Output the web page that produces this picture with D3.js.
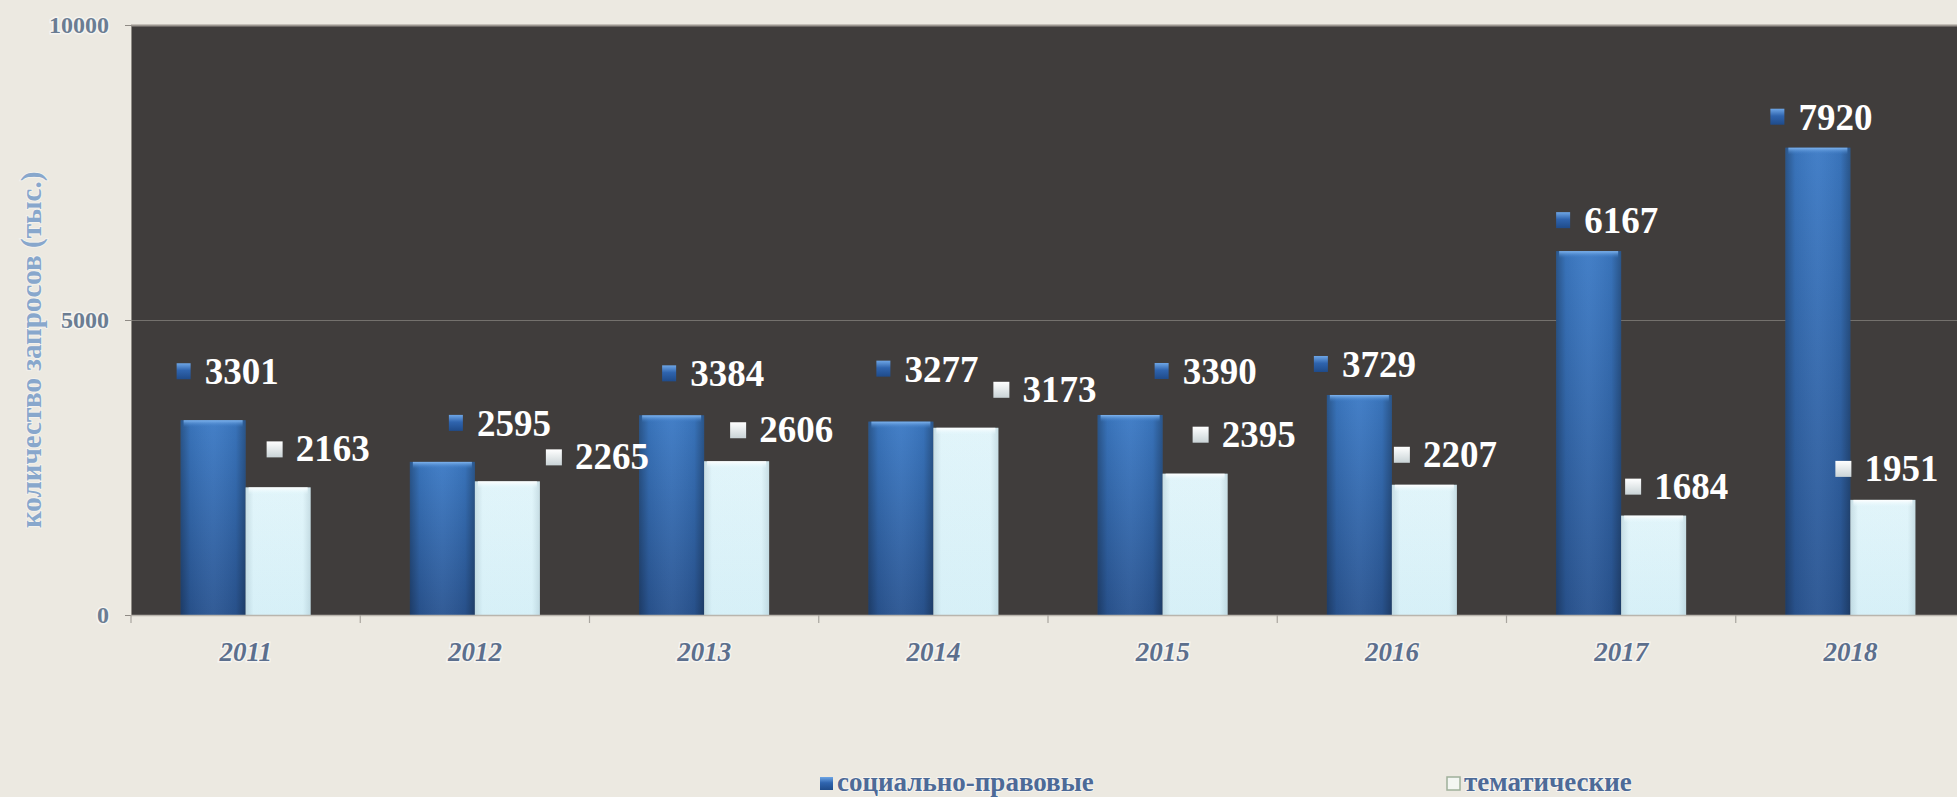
<!DOCTYPE html>
<html>
<head>
<meta charset="utf-8">
<script src="https://cdn.jsdelivr.net/npm/d3@7"></script>
<style>
html,body{margin:0;padding:0;background:#ece9e1;overflow:hidden}
text{font-family:"Liberation Serif","Times New Roman",serif;font-weight:bold}
</style>
</head>
<body>
<svg id="chart" width="1957" height="797"></svg>
<script>
// ---- data ----
const years = ["2011","2012","2013","2014","2015","2016","2017","2018"];
const seriesNames = ["социально-правовые","тематические"];
const socialLegal = [3301,2595,3384,3277,3390,3729,6167,7920];
const thematic = [2163,2265,2606,3173,2395,2207,1684,1951];
const yTicks = [0,5000,10000];
const yTitle = "количество запросов (тыс.)";

// ---- layout: label nudges [dx from bar left, dy from bar top] ----
const socialLabelNudge = [[3,-48],[46,-38],[30,-41],[15,-52],[64,-43],[-6,-30],[7,-30],[-8,-30]];
const thematicLabelNudge = [[29,-38],[79,-24],[34,-31],[68,-38],[38,-39],[10,-30],[12,-29],[-7,-31]];

const plot = {left:131, right:1965, top:25, bottom:615};
const svg = d3.select("#chart");

const x = d3.scaleBand().domain(years).range([plot.left, plot.right]).padding(0);
const barW = 65;
const xs = d3.scaleBand().domain([0,1])
  .range([x.bandwidth()/2 - barW, x.bandwidth()/2 + barW]).padding(0);
const y = d3.scaleLinear().domain([0,10000]).range([plot.bottom, plot.top]);

// ---- defs ----
const defs = svg.append("defs");
function lg(id, stops, horiz){
  const g = defs.append("linearGradient").attr("id", id)
    .attr("x1",0).attr("y1",0).attr("x2",horiz?1:0).attr("y2",horiz?0:1);
  stops.forEach(s => g.append("stop").attr("offset", s[0]).attr("stop-color", s[1]).attr("stop-opacity", s[2]==null?1:s[2]));
}
lg("blueV", [["0%","#3c7ac5"],["100%","#2a5592"]]);
lg("whiteV", [["0%","#e6f9fe"],["100%","#dbf4fb"]]);
lg("shadeH", [["0%","#000",0.30],["15%","#000",0.06],["50%","#fff",0.04],["85%","#000",0.06],["100%","#000",0.30]], true);
lg("shadeHW", [["0%","#6c8a96",0.25],["12%","#6c8a96",0.04],["88%","#6c8a96",0.04],["100%","#6c8a96",0.25]], true);
lg("blueTop", [["0%","#7fb4ee"],["100%","#3c7ac5",0]]);
lg("whiteTop", [["0%","#ffffff"],["100%","#e6f9fe",0]]);
lg("mkBlue", [["0%","#6ea6e6"],["45%","#2f64ae"],["100%","#1f4b8a"]]);
lg("mkWhite", [["0%","#ffffff"],["100%","#c9d3d6"]]);

// ---- plot background ----
svg.append("rect").attr("x", plot.left).attr("y", plot.top)
  .attr("width", plot.right - plot.left).attr("height", plot.bottom - plot.top)
  .attr("fill", "#403d3c");
svg.append("line").attr("x1", plot.left).attr("x2", plot.right)
  .attr("y1", plot.top + 0.5).attr("y2", plot.top + 0.5)
  .attr("stroke", "#9b968f").attr("stroke-width", 2);

// gridlines
svg.append("g").selectAll("line").data(yTicks.filter(t => t > 0 && t < 10000)).join("line")
  .attr("x1", plot.left - 6).attr("x2", plot.right)
  .attr("y1", d => Math.round(y(d)) + 0.5).attr("y2", d => Math.round(y(d)) + 0.5)
  .attr("stroke", "#74716d").attr("stroke-width", 1.2);

// ---- y axis ----
const yAxis = svg.append("g").attr("transform", `translate(${plot.left},0)`)
  .call(d3.axisLeft(y).tickValues(yTicks).tickSize(6).tickPadding(16).tickFormat(d3.format("d")));
yAxis.select(".domain").attr("stroke", "#8f8b85");
yAxis.selectAll(".tick line").attr("stroke", "#8f8b85");
yAxis.selectAll(".tick text")
  .attr("font-family", '"Liberation Serif","Times New Roman",serif')
  .attr("font-weight", "bold").attr("font-size", 24)
  .attr("fill", "#6b7d93")
  .attr("stroke", "#ffffff").attr("stroke-opacity", 0.55).attr("stroke-width", 3)
  .attr("paint-order", "stroke");

// y title
svg.append("text")
  .attr("transform", `translate(41,${528}) rotate(-90)`)
  .attr("text-anchor", "start")
  .attr("font-size", 29)
  .attr("fill", "#88a7cc")
  .attr("stroke", "#ffffff").attr("stroke-opacity", 0.4).attr("stroke-width", 2)
  .attr("paint-order", "stroke")
  .text(yTitle);

// ---- bars ----
const barData = [];
years.forEach((yr, i) => {
  barData.push({yr, s:0, v:socialLegal[i], nudge:socialLabelNudge[i]});
  barData.push({yr, s:1, v:thematic[i], nudge:thematicLabelNudge[i]});
});
const bx = d => x(d.yr) + xs(d.s);

const bars = svg.append("g").selectAll("g").data(barData).join("g");
bars.append("rect")
  .attr("x", bx).attr("y", d => y(d.v))
  .attr("width", xs.bandwidth()).attr("height", d => y(0) - y(d.v))
  .attr("fill", d => d.s === 0 ? "url(#blueV)" : "url(#whiteV)");
bars.append("rect")
  .attr("x", bx).attr("y", d => y(d.v))
  .attr("width", xs.bandwidth()).attr("height", d => y(0) - y(d.v))
  .attr("fill", d => d.s === 0 ? "url(#shadeH)" : "url(#shadeHW)");
bars.append("rect")
  .attr("x", d => bx(d) + 3).attr("y", d => y(d.v))
  .attr("width", xs.bandwidth() - 6).attr("height", 7)
  .attr("fill", d => d.s === 0 ? "url(#blueTop)" : "url(#whiteTop)");

// ---- x axis ----
svg.append("line").attr("x1", plot.left).attr("x2", plot.right)
  .attr("y1", plot.bottom + 0.5).attr("y2", plot.bottom + 0.5)
  .attr("stroke", "#b9b5ad").attr("stroke-width", 1.5);
svg.append("g").selectAll("line").data(years.concat(["end"])).join("line")
  .attr("x1", d => d === "end" ? plot.right : x(d)).attr("x2", d => d === "end" ? plot.right : x(d))
  .attr("y1", plot.bottom).attr("y2", plot.bottom + 8)
  .attr("stroke", "#a9a59e").attr("stroke-width", 1.2);

const xAxis = svg.append("g").attr("transform", `translate(0,${plot.bottom})`)
  .call(d3.axisBottom(x).tickSize(0).tickPadding(46));
xAxis.select(".domain").remove();
xAxis.selectAll(".tick text")
  .attr("font-family", '"Liberation Serif","Times New Roman",serif')
  .attr("font-weight", "bold").attr("font-style", "italic").attr("font-size", 27)
  .attr("fill", "#5c6f8d")
  .attr("dy", 0)
  .attr("stroke", "#ffffff").attr("stroke-opacity", 0.55).attr("stroke-width", 3)
  .attr("paint-order", "stroke");

// ---- data labels ----
const labels = svg.append("g").selectAll("g").data(barData).join("g")
  .attr("transform", d => `translate(${bx(d) + d.nudge[0]},${y(d.v) + d.nudge[1]})`);
labels.append("rect")
  .attr("x", d => d.s === 0 ? -7 : -8).attr("y", d => d.s === 0 ? -9 : -8)
  .attr("width", d => d.s === 0 ? 14 : 16).attr("height", 16)
  .attr("fill", d => d.s === 0 ? "url(#mkBlue)" : "url(#mkWhite)");
labels.append("text")
  .attr("x", 21).attr("y", 12)
  .attr("font-size", 37)
  .attr("fill", "#ffffff")
  .text(d => d.v);

// ---- legend ----
const legendPos = [820, 1447];
const lgd = svg.append("g").selectAll("g").data(seriesNames).join("g")
  .attr("transform", (d, i) => `translate(${legendPos[i]},0)`);
lgd.append("rect").attr("x", 0).attr("y", 777).attr("width", 13).attr("height", 13)
  .attr("fill", (d, i) => i === 0 ? "url(#mkBlue)" : "#f3f6f2")
  .attr("stroke", (d, i) => i === 0 ? "none" : "#9fb09a").attr("stroke-width", 1.5);
lgd.append("text").attr("x", 17).attr("y", 791)
  .attr("font-size", 27).attr("fill", "#4d6a97")
  .attr("stroke", "#ffffff").attr("stroke-opacity", 0.5).attr("stroke-width", 2)
  .attr("paint-order", "stroke")
  .text(d => d);
</script>
</body>
</html>
